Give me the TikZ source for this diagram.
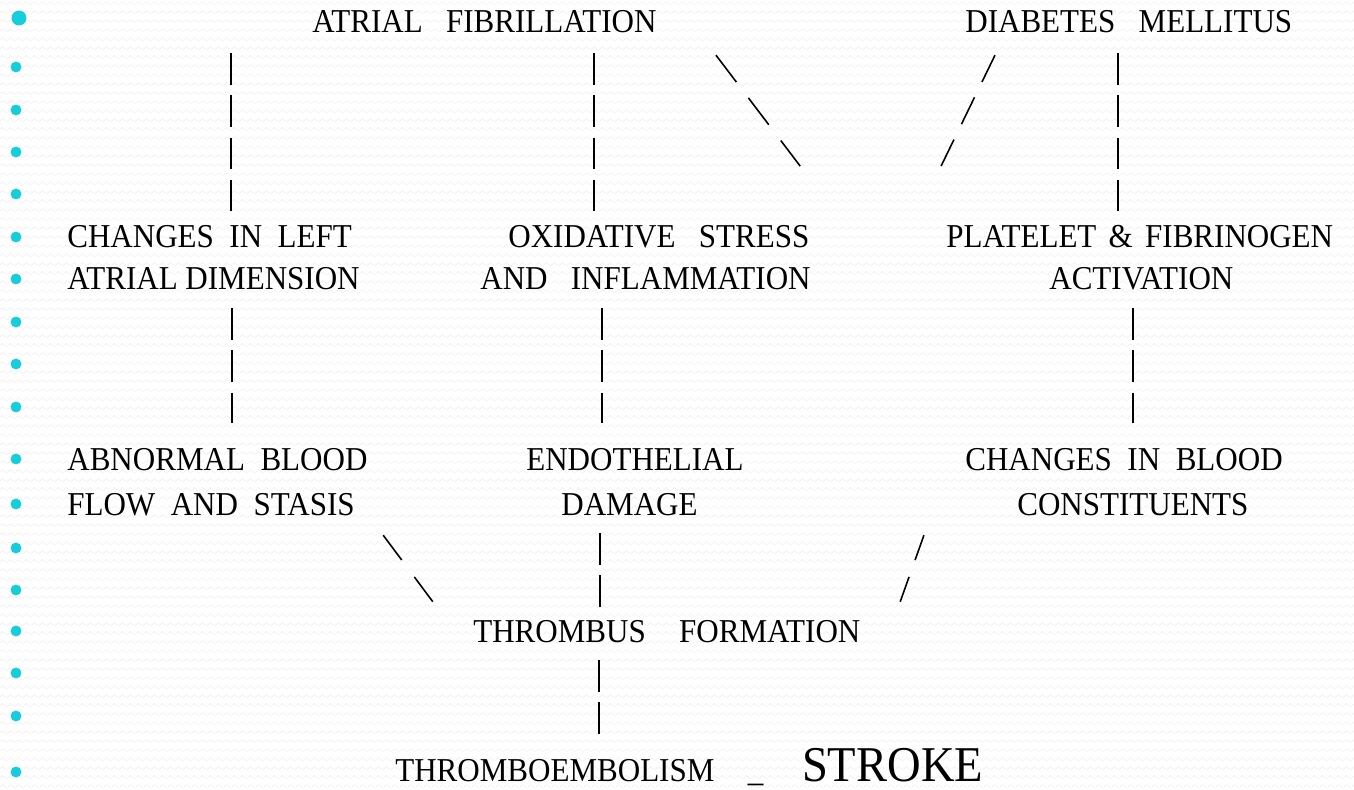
\documentclass[tikz,border=0pt]{standalone}
\usepackage{fontspec}
\setmainfont{Liberation Serif}[FakeStretch=0.93]
\usetikzlibrary{patterns.meta}
\definecolor{bulletcyan}{RGB}{20,206,219}
\tikzdeclarepattern{
  name=bgzig,
  type=uncolored,
  bounding box={(0pt,0pt) and (4.6pt,4.9pt)},
  tile size={(4.6pt,4.9pt)},
  code={\draw[line width=0.4pt] (0pt,1.4pt) -- (2.3pt,3.2pt) -- (4.6pt,1.4pt);}
}

\begin{document}
\begin{tikzpicture}[x=0.02cm, y=-0.02cm,
    lbl/.style={inner sep=0pt, anchor=base west, text height=12.5pt, text depth=0pt, font=\fontsize{19}{23}\selectfont},
    bar/.style={line width=1.1pt, dash pattern=on 17.9pt off 6.1pt},
    slant/.style={line width=0.9pt}
]
% page and faint background texture
\fill[white] (0,0) rectangle (1354,790);
\useasboundingbox (0,0) rectangle (1354,790);
\fill[pattern=bgzig, pattern color=black!6] (0,0) rectangle (1354,790);

% bullets
\fill[bulletcyan] (19,18) circle[radius=4.25pt];
\foreach \yy in {67,110,152,194,237,279,322,364,407,459,504,548,590,631,673,716,772}
    \fill[bulletcyan] (16,\yy) circle[radius=3.1pt];

% causes
\node[lbl] (af) at (312,33) {ATRIAL~~~FIBRILLATION};
\node[lbl] (dm) at (965,33) {DIABETES~~~MELLITUS};

% first level
\node[lbl] (chgA) at (67,248) {CHANGES~~IN~~LEFT};
\node[lbl] (chgB) at (67,290) {ATRIAL~DIMENSION};
\node[lbl] (oxA) at (508,248) {OXIDATIVE~~~STRESS};
\node[lbl] (oxB) at (480,290) {AND~~~INFLAMMATION};
\node[lbl] (plA) at (946,248) {PLATELET\hspace{7pt}\&\hspace{7pt}FIBRINOGEN};
\node[lbl] (plB) at (1049,290) {ACTIVATION};

% Virchow triad
\node[lbl] (abA) at (67,470) {ABNORMAL~~BLOOD};
\node[lbl] (abB) at (67,515) {FLOW~~AND~~STASIS};
\node[lbl] (endA) at (526,470) {ENDOTHELIAL};
\node[lbl] (endB) at (561,515) {DAMAGE};
\node[lbl] (cbA) at (965,470) {CHANGES~~IN~~BLOOD};
\node[lbl] (cbB) at (1017,515) {CONSTITUENTS};

% outcome
\node[lbl] (thr) at (473,642) {THROMBUS\hspace{19pt}FORMATION};
\node[lbl] (te) at (395,781) {THROMBOEMBOLISM\hspace{19pt}\_\hspace{22pt}{\fontsize{28.5}{30}\selectfont STROKE}};

% links from the causes
\draw[bar, shorten <=11.3pt, shorten >=7.4pt] (af.south -| 231,0) -- (chgA.north -| 231,0);
\draw[bar, shorten <=11.3pt, shorten >=7.4pt] (af.south -| 594,0) -- (oxA.north -| 594,0);
\draw[bar, shorten <=11.3pt, shorten >=7.4pt] (dm.south -| 1118,0) -- (plA.north -| 1118,0);
\draw[slant, dash pattern=on 19.2pt off 11.3pt, shorten <=15.6pt, shorten >=42.6pt] (af.south -| 699.4,0) -- (oxA.north -| 845.4,0);
\draw[slant, dash pattern=on 17pt off 9.7pt, shorten <=13.8pt, shorten >=37.8pt] (dm.south -| 1005.6,0) -- (plA.north -| 912.1,0);

% links to the triad
\draw[bar, shorten <=10.2pt, shorten >=14.2pt] (chgB.south -| 232,0) -- (abA.north -| 232,0);
\draw[bar, shorten <=10.2pt, shorten >=14.2pt] (oxB.south -| 602,0) -- (endA.north -| 602,0);
\draw[bar, shorten <=10.2pt, shorten >=14.2pt] (plB.south -| 1133,0) -- (cbA.north -| 1133,0);

% links to thrombus and stroke
\draw[slant, dash pattern=on 17.6pt off 12pt, shorten <=14.1pt, shorten >=12pt] (abB.south -| 368.4,0) -- (thr.north -| 446.2,0);
\draw[bar, shorten <=10.2pt, shorten >=6.8pt] (endB.south -| 600,0) -- (thr.north -| 600,0);
\draw[slant, dash pattern=on 15pt off 10.2pt, shorten <=12pt, shorten >=10.2pt] (cbB.south -| 931,0) -- (thr.north -| 893.8,0);
\draw[bar, shorten <=10.2pt, shorten >=14.2pt] (thr.south -| 599,0) -- (te.north -| 599,0);
\end{tikzpicture}
\end{document}
